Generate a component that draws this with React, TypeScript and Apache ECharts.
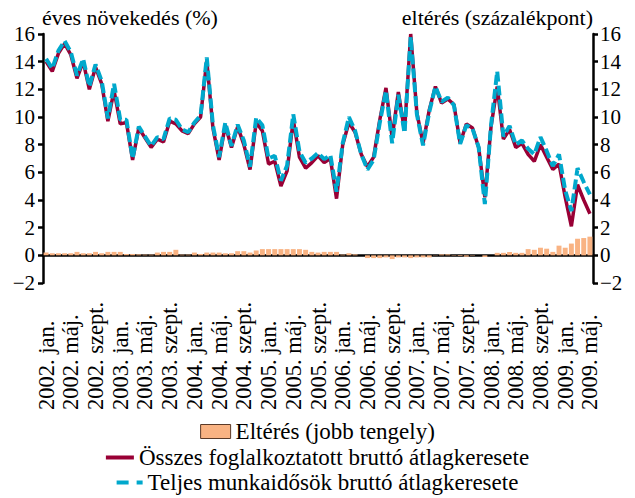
import React, { useEffect, useRef } from "react";
import * as echarts from "echarts";

const FONT = "Liberation Serif";

const years = [2002, 2003, 2004, 2005, 2006, 2007, 2008, 2009];
const monthNames = ["jan.", "febr.", "márc.", "ápr.", "máj.", "jún.", "júl.", "aug.", "szept.", "okt.", "nov.", "dec."];
const monthsIn2009 = 5;

const categories: string[] = [];
years.forEach((y) =>
  monthNames.forEach((m, k) => {
    if (y < 2009 || k < monthsIn2009) categories.push(`${y}. ${m}`);
  })
);

const yTicks = { min: -2, max: 16, interval: 2 };

const seriesNames = [
  "Eltérés (jobb tengely)",
  "Összes foglalkoztatott bruttó átlagkeresete",
  "Teljes munkaidősök bruttó átlagkeresete",
];

// Összes foglalkoztatott (left axis)
const osszes = [
  14.0, 13.3, 14.6, 15.3, 14.5, 12.8, 14.0, 12.0, 13.6, 12.4, 9.7, 11.9,
  9.5, 9.6, 6.9, 9.2, 8.5, 7.8, 8.4, 8.2, 9.7, 9.5, 9.0, 8.8,
  9.5, 10.0, 14.1, 9.2, 6.9, 9.4, 7.8, 9.3, 8.0, 6.2, 9.6, 9.0,
  6.6, 6.8, 5.0, 6.1, 9.8, 7.1, 6.3, 6.7, 7.2, 6.7, 7.0, 4.1,
  8.0, 9.6, 8.9, 7.3, 6.4, 7.1, 9.8, 12.1, 8.5, 11.8, 9.0, 16.0,
  10.3, 8.1, 10.5, 12.2, 11.0, 11.3, 10.9, 8.1, 9.5, 9.2, 7.8, 4.2,
  9.3, 12.2, 8.4, 9.1, 7.8, 8.1, 7.3, 6.8, 8.0, 7.1, 6.2, 6.6,
  4.2, 2.1, 5.1, 4.0, 3.0,
];

// Teljes munkaidősök (left axis)
const teljes = [
  14.2, 13.5, 14.8, 15.5, 14.7, 13.0, 14.2, 12.2, 13.8, 12.6, 9.9, 12.4,
  9.8, 9.8, 7.0, 9.3, 8.6, 7.9, 8.55, 8.4, 9.9, 9.8, 9.1, 8.9,
  9.6, 10.1, 14.3, 9.4, 7.1, 9.6, 7.9, 9.45, 8.3, 6.4, 9.95, 9.4,
  7.0, 7.2, 5.4, 6.5, 10.2, 7.5, 6.7, 7.0, 7.4, 6.95, 7.25, 4.6,
  8.1, 10.0, 9.0, 7.3, 6.2, 6.9, 9.6, 11.9, 8.1, 11.6, 8.85, 15.8,
  10.2, 7.95, 10.35, 12.2, 11.1, 11.4, 10.85, 8.05, 9.4, 9.15, 7.8, 3.7,
  9.4, 13.3, 8.6, 9.35, 8.0, 8.3, 7.7, 7.3, 8.55, 7.55, 6.45, 7.3,
  4.7, 3.2, 6.3, 5.3, 4.4,
];

// Eltérés (right axis, százalékpont)
const elteres = [
  0.2, 0.15, 0.15, 0.15, 0.15, 0.25, 0.15, 0.15, 0.25, 0.15, 0.25, 0.25,
  0.25, 0.1, 0.1, 0.07, 0.05, 0.05, 0.2, 0.25, 0.25, 0.4, 0.05, 0.05,
  0.2, 0.1, 0.2, 0.2, 0.2, 0.15, 0.15, 0.3, 0.3, 0.2, 0.35, 0.45,
  0.45, 0.45, 0.45, 0.45, 0.45, 0.45, 0.4, 0.25, 0.2, 0.25, 0.25, 0.25,
  0.05, 0.15, 0.07, 0.0, -0.2, -0.2, -0.2, -0.15, -0.27, -0.15, -0.15, -0.2,
  -0.15, -0.15, -0.15, -0.02, 0.07, 0.07, -0.03, -0.05, -0.1, -0.03, 0.0, -0.12,
  0.0, 0.18, 0.18, 0.25, 0.18, 0.18, 0.45, 0.4, 0.55, 0.48, 0.25, 0.7,
  0.55, 0.85, 1.2, 1.25, 1.35,
];

const RED = "#990035";
const CYAN = "#00A8CC";
const ORANGE = "#F9B383";

const fmt = (v: number) => String(v).replace("-", "\u2212");

export default function App() {
  const ref = useRef<HTMLDivElement>(null);
  useEffect(() => {
    document.body.style.margin = "0";
    if (!ref.current) return;
    const chart = echarts.init(ref.current, undefined, { renderer: "svg" });
    const axisCommon = {
      type: "value" as const,
      min: yTicks.min,
      max: yTicks.max,
      interval: yTicks.interval,
      splitLine: { show: false },
      axisLine: { show: true, lineStyle: { color: "#000", width: 2.5 } },
      axisTick: { show: true, length: 5, lineStyle: { color: "#000", width: 2.5 } },
    };
    const legendText = { fontSize: 23, color: "#000", fontFamily: FONT };
    chart.setOption({
      animation: false,
      textStyle: { fontFamily: FONT, color: "#000" },
      grid: { left: 43, right: 42, top: 34, bottom: 215, containLabel: false },
      xAxis: {
        type: "category",
        data: categories,
        boundaryGap: true,
        axisLine: { onZero: true, lineStyle: { color: "#000", width: 2.5 } },
        axisTick: { interval: 3, length: 6, lineStyle: { color: "#000", width: 2.5 } },
        axisLabel: {
          interval: 3,
          rotate: 90,
          align: "left",
          verticalAlign: "middle",
          margin: 127,
          fontSize: 22.5,
          color: "#000",
          fontFamily: FONT,
        },
      },
      yAxis: [
        {
          ...axisCommon,
          position: "left",
          axisLabel: { margin: 8, fontSize: 21, color: "#000", fontFamily: FONT, formatter: fmt },
        },
        {
          ...axisCommon,
          position: "right",
          axisLabel: { margin: 7, fontSize: 21, color: "#000", fontFamily: FONT, formatter: fmt },
        },
      ],
      legend: [
        {
          data: [{ name: seriesNames[0], icon: "rect" }],
          left: "center",
          top: 420,
          padding: 0,
          itemWidth: 30,
          itemHeight: 14,
          itemStyle: { borderColor: "#5a3a28", borderWidth: 1 },
          textStyle: legendText,
        },
        {
          data: [{ name: seriesNames[1], icon: "rect" }],
          left: "center",
          top: 446,
          padding: 0,
          itemWidth: 28,
          itemHeight: 4,
          itemStyle: { borderWidth: 0 },
          textStyle: legendText,
        },
        {
          data: [{ name: seriesNames[2], icon: "path://M0,0H12V4H0Z M20,0H26V4H20Z" }],
          left: "center",
          top: 471,
          padding: 0,
          itemWidth: 26,
          itemHeight: 4,
          symbolKeepAspect: false,
          itemStyle: { borderWidth: 0 },
          textStyle: legendText,
        },
      ],
      graphic: [
        {
          type: "text",
          left: 42,
          top: 6,
          style: { text: "éves növekedés (%)", fontSize: 22, fontFamily: FONT, fill: "#000" },
        },
        {
          type: "text",
          right: 42,
          top: 6,
          style: { text: "eltérés (százalékpont)", fontSize: 22, fontFamily: FONT, fill: "#000" },
        },
      ],
      series: [
        {
          name: seriesNames[0],
          type: "bar",
          yAxisIndex: 1,
          data: elteres,
          barWidth: "80%",
          itemStyle: { color: ORANGE },
        },
        {
          name: seriesNames[1],
          type: "line",
          yAxisIndex: 0,
          data: osszes,
          symbol: "none",
          lineStyle: { color: RED, width: 3.5 },
          itemStyle: { color: RED },
        },
        {
          name: seriesNames[2],
          type: "line",
          yAxisIndex: 0,
          data: teljes,
          symbol: "none",
          lineStyle: { color: CYAN, width: 4, type: [10, 4] },
          itemStyle: { color: CYAN },
        },
      ],
    });
    return () => chart.dispose();
  }, []);
  return <div ref={ref} style={{ width: 635, height: 498 }} />;
}
